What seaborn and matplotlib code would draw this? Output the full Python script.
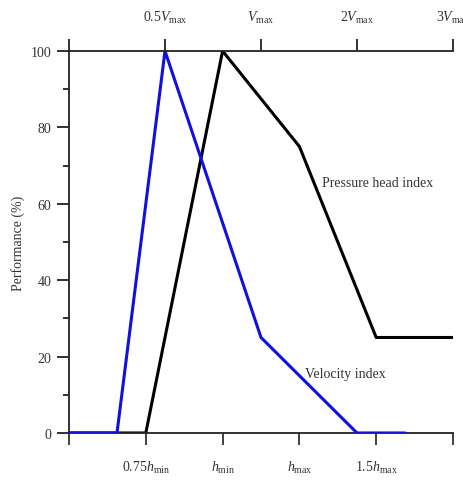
import numpy as np
import pandas as pd
import seaborn as sns
import matplotlib.pyplot as plt
from matplotlib.ticker import MultipleLocator

# Pressure head index, x in bottom-axis tick units (0.75h_min=1, h_min=2, ...)
pressure_x = [0, 1, 2, 3, 4, 5]
pressure_y = [0, 0, 100, 75, 25, 25]

# Velocity index, x in top-axis tick units (0.5V_max=1, V_max=2, 2V_max=3, 3V_max=4)
velocity_x = [0, 0.5, 1, 2, 3, 3.5]
velocity_y = [0, 0, 100, 25, 0, 0]

bottom_ticks = [0, 1, 2, 3, 4, 5]
bottom_labels = ["", r"0.75$h_{\mathrm{min}}$", r"$h_{\mathrm{min}}$",
                 r"$h_{\mathrm{max}}$", r"1.5$h_{\mathrm{max}}$", ""]
top_ticks = [0, 1, 2, 3, 4]
top_labels = ["", r"0.5$V_{\mathrm{max}}$", r"$V_{\mathrm{max}}$",
              r"2$V_{\mathrm{max}}$", r"3$V_{\mathrm{max}}$"]

sns.set_style("ticks")
plt.rcParams['font.family'] = ['Liberation Serif', 'DejaVu Serif']
plt.rcParams['mathtext.fontset'] = 'custom'
plt.rcParams['mathtext.rm'] = 'Liberation Serif'
plt.rcParams['mathtext.it'] = 'Liberation Serif:italic'
plt.rcParams['font.size'] = 10

fig = plt.figure(figsize=(4.64, 4.85), dpi=100)
ax = fig.add_axes([0.1487, 0.1052, 0.8276, 0.7876])

sns.lineplot(x=pressure_x, y=pressure_y, ax=ax, color="black", lw=2.2,
             estimator=None, sort=False)
ax.set_xlim(0, 5)
ax.set_ylim(0, 100)
ax.set_xticks(bottom_ticks)
ax.set_xticklabels(bottom_labels)
ax.yaxis.set_major_locator(MultipleLocator(20))
ax.yaxis.set_minor_locator(MultipleLocator(10))
ax.tick_params(axis='x', direction='out', length=8.6, width=1.3, pad=10,
               colors='#333333', labelcolor='#333333')
ax.tick_params(axis='y', which='major', direction='out', length=8.6, width=1.3,
               pad=4, color='#222222', labelcolor='#333333')
ax.tick_params(axis='y', which='minor', direction='out', length=4.5, width=1.3,
               color='#222222')
ax.set_ylabel("Performance (%)", color='#333333', labelpad=4)
for s in ['top', 'right']:
    ax.spines[s].set_visible(False)
for s in ['left', 'bottom']:
    ax.spines[s].set_linewidth(1.3)
    ax.spines[s].set_color('#222222')

ax.text(3.29, 65.7, "Pressure head index", ha='left', va='center', color='#333333')
ax.text(3.07, 15.7, "Velocity index", ha='left', va='center', color='#333333')

ax2 = ax.twiny()
sns.lineplot(x=velocity_x, y=velocity_y, ax=ax2, color="#1010e0", lw=2.2,
             estimator=None, sort=False)
ax2.set_xlim(0, 4)
ax2.set_ylim(0, 100)
ax2.set_xticks(top_ticks)
ax2.set_xticklabels(top_labels)
ax2.tick_params(axis='x', direction='out', length=8.6, width=1.3, pad=10,
                color='#222222', labelcolor='#333333')
for s in ['left', 'right', 'bottom']:
    ax2.spines[s].set_visible(False)
ax2.spines['top'].set_linewidth(1.3)
ax2.spines['top'].set_color('#222222')

fig.savefig("out.png", dpi=100)
